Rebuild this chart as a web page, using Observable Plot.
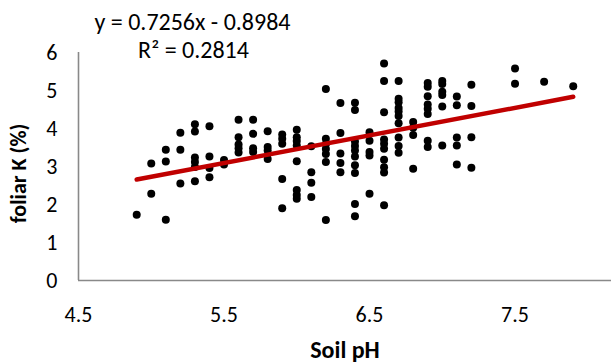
<!DOCTYPE html>
<html><head><meta charset="utf-8">
<script src="https://cdn.jsdelivr.net/npm/d3@7"></script>
<script src="https://cdn.jsdelivr.net/npm/@observablehq/plot@0.6"></script>
<style>body{margin:0;background:#fff} svg{display:block}</style>
</head><body><div id="chart"></div>
<script>
// Soil pH levels and the foliar K values (%) observed at each level
const phLevels = [4.9, 5.0, 5.1, 5.2, 5.3, 5.4, 5.5, 5.6, 5.7, 5.8, 5.9, 6.0, 6.1, 6.2, 6.3, 6.4, 6.5, 6.6, 6.7, 6.8, 6.9, 7.0, 7.1, 7.2, 7.5, 7.7, 7.9];
const foliarK = [
  [1.73],
  [3.08, 2.28],
  [3.44, 3.13, 1.60],
  [3.89, 3.44, 2.55],
  [4.11, 3.92, 3.24, 3.12, 2.99, 2.61],
  [4.06, 3.26, 2.96, 2.72],
  [3.17, 3.05],
  [4.23, 3.77, 3.58, 3.48, 3.37],
  [4.23, 3.86, 3.48, 3.38],
  [3.93, 3.51, 3.42, 3.20],
  [3.84, 3.73, 3.60, 2.67, 1.90],
  [3.97, 3.77, 3.67, 3.55, 3.14, 2.38, 2.25, 2.15],
  [3.53, 2.85, 2.57, 2.20],
  [5.04, 3.73, 3.59, 3.46, 3.33, 3.12, 1.59],
  [4.67, 3.88, 3.34, 3.09, 2.85],
  [4.68, 4.49, 3.66, 3.54, 3.42, 3.26, 3.03, 2.83, 2.01, 1.69],
  [3.90, 3.68, 3.38, 3.29, 2.28],
  [5.71, 5.25, 4.43, 3.71, 3.60, 3.47, 3.18, 2.98, 2.84, 1.98],
  [5.25, 4.78, 4.69, 4.54, 4.45, 4.33, 4.14, 3.76, 3.54, 3.36],
  [4.17, 4.02, 3.83, 2.94],
  [5.20, 5.10, 4.85, 4.63, 4.52, 4.38, 3.68, 3.51],
  [5.25, 5.17, 4.97, 4.88, 4.58, 3.55],
  [4.84, 4.61, 3.76, 3.55, 3.05],
  [5.15, 4.59, 3.77, 2.97],
  [5.58, 5.18],
  [5.23],
  [5.11]
];
const trendSlope = 0.7256;
const trendIntercept = -0.8984;
const equationLabel = "y = 0.7256x - 0.8984";
const r2Label = "R\u00B2 = 0.2814";
const xTicks = [4.5, 5.5, 6.5, 7.5];
const yTicks = [0, 1, 2, 3, 4, 5, 6];
const xTitle = "Soil pH";
const yTitle = "foliar K (%)";

const points = phLevels.flatMap((ph, i) => foliarK[i].map(k => ({ph, k})));
const [x0, x1] = d3.extent(points, d => d.ph);
const trend = [x0, x1].map(ph => ({ph, k: trendSlope * ph + trendIntercept}));

const axisGray = "#898989";
const font = "Calibri, Carlito, Lato, sans-serif";

const chart = Plot.plot({
  width: 611,
  height: 363,
  marginLeft: 78,
  marginRight: 0,
  marginTop: 52,
  marginBottom: 83,
  style: {fontFamily: font, fontSize: "22px", color: "#000", background: "#fff", overflow: "visible"},
  x: {domain: [4.5, 8.163]},
  y: {domain: [0, 6]},
  marks: [
    Plot.ruleX([4.5], {stroke: axisGray, strokeWidth: 1.6}),
    Plot.ruleY([0], {stroke: axisGray, strokeWidth: 1.6}),
    Plot.axisX({ticks: xTicks, tickSize: 0, tickPadding: 26, tickFormat: d => d.toFixed(1), label: null, fill: "#000", fontSize: 22}),
    Plot.axisY({ticks: yTicks, tickSize: 0, tickPadding: 21, tickFormat: d => String(d), label: null, fill: "#000", fontSize: 22}),
    Plot.dot(points, {x: "ph", y: "k", r: 4, fill: "#000", stroke: "none"}),
    Plot.line(trend, {x: "ph", y: "k", stroke: "#C00000", strokeWidth: 4.5, strokeLinecap: "round"}),
    Plot.text([xTitle], {text: d => d, frameAnchor: "bottom", dy: 70, lineAnchor: "middle", fontWeight: "bold", fontSize: 24, fill: "#000"}),
    Plot.text([yTitle], {text: d => d, frameAnchor: "left", textAnchor: "middle", lineAnchor: "middle", dx: -60, dy: 7, rotate: -90, fontWeight: "bold", fontSize: 22, fill: "#000"}),
    Plot.text([equationLabel], {text: d => d, frameAnchor: "top-left", textAnchor: "middle", lineAnchor: "middle", dx: 114, dy: -30, fontSize: 24, fill: "#000"}),
    Plot.text([r2Label], {text: d => d, frameAnchor: "top-left", textAnchor: "middle", lineAnchor: "middle", dx: 115, dy: -2, fontSize: 24, fill: "#000"})
  ]
});
document.getElementById("chart").appendChild(chart);
</script>
</body></html>
